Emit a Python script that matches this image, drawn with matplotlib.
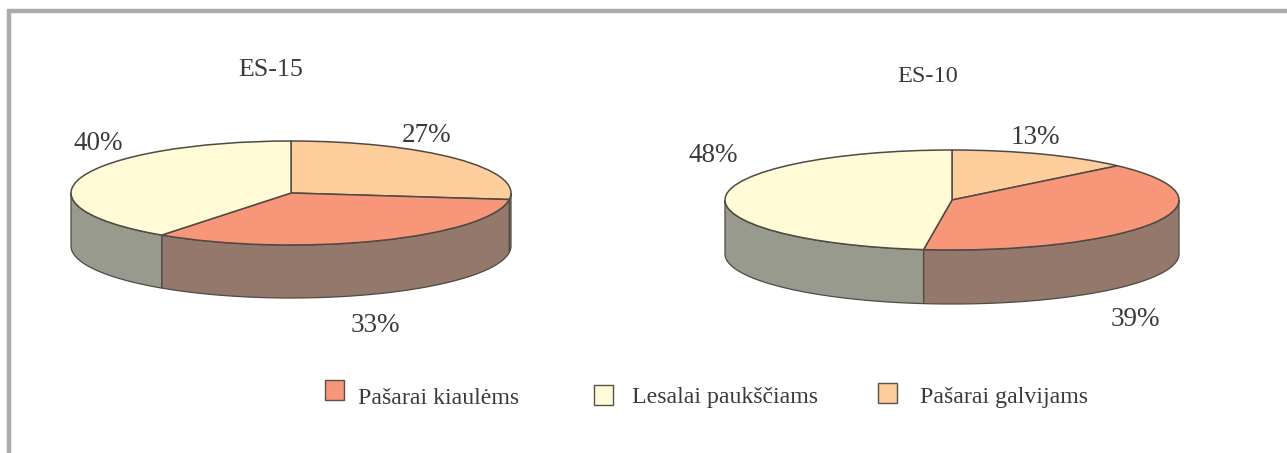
"""Two tilted pie charts of feed production shares, ES-15 against ES-10."""

import matplotlib
matplotlib.use("Agg")
import matplotlib.pyplot as plt
import matplotlib.patches as mpatches
import numpy as np

# Data, clockwise from 12 o'clock
feed_names = ["Pašarai galvijams", "Pašarai kiaulėms", "Lesalai paukščiams"]
es15_values = [27, 33, 40]
es10_values = [13, 39, 48]
pie_titles = ["ES-15", "ES-10"]
legend_order = [1, 2, 0]

# Colours
TOP_COLORS = ["#FDCD9B", "#F79679", "#FFFBD6"]
WALL_COLORS = ["#97836F", "#93786B", "#989A8E"]
EDGE = "#4F4A44"
TEXT = "#3A3A3A"
FRAME = "#A9ABB0"

W, H = 1287, 453
plt.rcParams["font.family"] = ["Liberation Serif", "DejaVu Serif"]


def draw_pie(fig, values, cx, cy, rx, ry, depth):
    """Draw one pie squashed to an ellipse, with a side wall below it."""
    ax = fig.add_axes([(cx - rx) / W, 1 - (cy + ry + depth) / H,
                       2 * rx / W, (2 * ry + depth) / H])
    wedges, _ = ax.pie(values, colors=TOP_COLORS, startangle=90, counterclock=False,
                       radius=1, wedgeprops={"edgecolor": EDGE, "linewidth": 1.1,
                                             "clip_on": False, "zorder": 3})
    ax.set_aspect("auto")
    ax.set_xlim(-1, 1)
    ax.set_ylim(-1 - depth / ry, 1)
    drop = depth / ry

    # Side wall: only the part of each wedge that faces the viewer
    for wedge, color in zip(wedges, WALL_COLORS):
        t1, t2 = wedge.theta1 % 360, wedge.theta2 % 360
        if t2 <= t1:
            t2 += 360
        for lo, hi in [(t1, t2), (t1 - 360, t2 - 360)]:
            lo, hi = max(lo, 180), min(hi, 360)
            if hi <= lo:
                continue
            t = np.radians(np.linspace(lo, hi, 120))
            xs = np.concatenate([np.cos(t), np.cos(t[::-1])])
            ys = np.concatenate([np.sin(t), np.sin(t[::-1]) - drop])
            ax.fill(xs, ys, facecolor=color, edgecolor=EDGE, linewidth=0.9,
                    clip_on=False, zorder=2)
    return ax


fig = plt.figure(figsize=(W / 100, H / 100), dpi=100, facecolor="white")

# Overlay in pixel coordinates for frame, labels and legend
overlay = fig.add_axes([0, 0, 1, 1], zorder=5)
overlay.set_xlim(0, W)
overlay.set_ylim(H, 0)
overlay.axis("off")
overlay.patch.set_alpha(0)

overlay.plot([9, 9, W], [H, 11, 11], color=FRAME, linewidth=3.2,
             solid_joinstyle="miter", solid_capstyle="butt")

draw_pie(fig, es15_values, 291, 193, 220, 52, 53)
draw_pie(fig, es10_values, 952, 200, 227, 50, 54)

overlay.text(271, 70, pie_titles[0], fontsize=18.7, color=TEXT, ha="center", va="center")
overlay.text(928, 76, pie_titles[1], fontsize=17.6, color=TEXT, ha="center", va="center")

label_spots_15 = [(426.5, 136), (375.5, 325), (98, 144)]
label_spots_10 = [(1035, 137), (1135.5, 319), (713.5, 155)]
for values, spots in [(es15_values, label_spots_15), (es10_values, label_spots_10)]:
    for v, (x, y) in zip(values, spots):
        overlay.text(x, y, f"{v}%", fontsize=19.5, color=TEXT, ha="center", va="center")

# Legend, hand placed because the entries are unevenly spaced
legend_x = [325, 594, 878]
legend_y = [380, 385, 383]
legend_text_x = [358, 632, 920]
for i, x, y, tx in zip(legend_order, legend_x, legend_y, legend_text_x):
    overlay.add_patch(mpatches.Rectangle((x, y), 19, 20, facecolor=TOP_COLORS[i],
                                         edgecolor="#5A5048", linewidth=1.0))
    overlay.text(tx, 398, feed_names[i], fontsize=17.2, color=TEXT, ha="left", va="center")

fig.savefig("out.png", dpi=100)
plt.close(fig)
